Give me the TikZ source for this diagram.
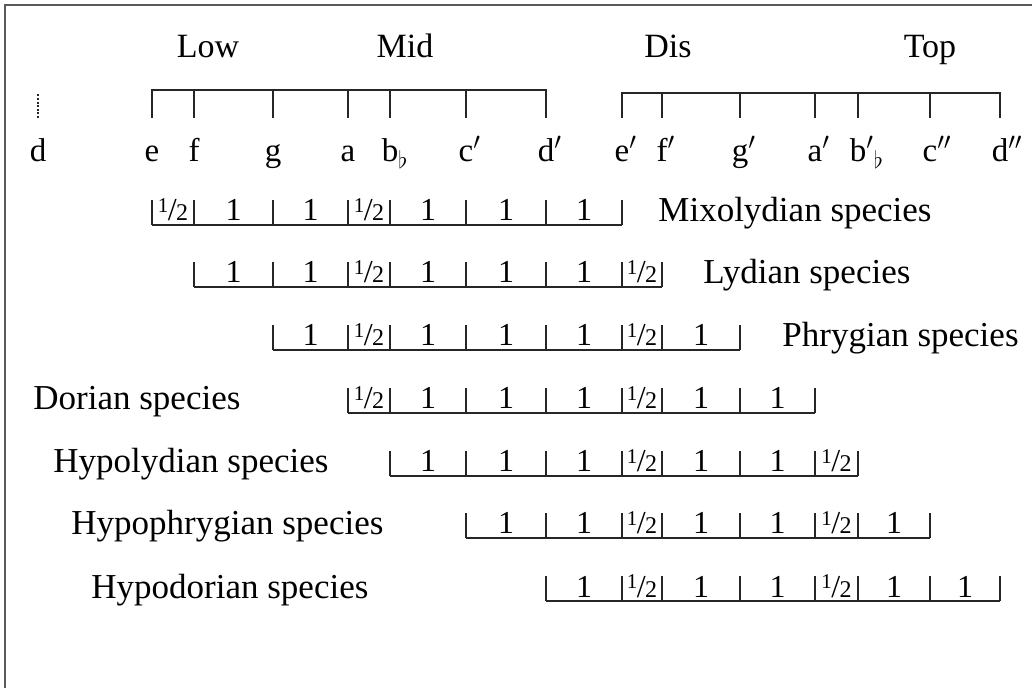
\documentclass[tikz,border=0pt]{standalone}
\usepackage{fontspec}
\setmainfont{Liberation Serif}
\usetikzlibrary{positioning}
\newcommand{\hf}{\raisebox{0.6ex}{\fontsize{10.5}{10.5}\selectfont 1}\kern-0.3pt/\kern-0.3pt{\fontsize{12}{12}\selectfont 2}}
\tikzset{
  region/.style={anchor=base, inner sep=0pt, font=\fontsize{17}{17}\selectfont},
  notename/.style={anchor=base, inner sep=0pt, font=\fontsize{16.5}{16.5}\selectfont},
  species/.style={anchor=base west, inner sep=0pt, font=\fontsize{17.5}{17.5}\selectfont},
  steplabel/.style={anchor=base, inner sep=0pt, font=\fontsize{16}{16}\selectfont},
  bar/.style={line width=0.8pt, black!85},
  edge/.style={line width=1.1pt, black!65}
}

\begin{document}
\begin{tikzpicture}[x=0.5pt, y=-0.5pt]
  \useasboundingbox (0,0) rectangle (1032,688);
  \draw[edge] (5,688) -- (5,5) -- (1032,5);
  % notes of the scale
  \foreach \x/\t [count=\i from 0] in {38/d, 152/e, 194/f, 273/g, 348/a,
      390/{b\rlap{$_\flat$}}, 466/{c\rlap{$'$}}, 546/{d\rlap{$'$}},
      622/{e\rlap{$'$}}, 662/{f\rlap{$'$}}, 740/{g\rlap{$'$}},
      815/{a\rlap{$'$}}, 858/{b\rlap{$'$$_\flat$}}, 930/{c\rlap{$''$}},
      1000/{d\rlap{$''$}}}
  {
    \coordinate (n\i) at (\x,118);
    \node[notename] (l\i) at (\x,162) {\t};
  }
  \node[region] (low) at (208,58) {Low};
  \node[region] (mid) at (405,58) {Mid};
  \node[region] (dis) at (668,58) {Dis};
  \node[region] (top) at (930,58) {Top};
  \draw[bar, dash pattern=on 1pt off 0.8pt] (n0) -- (n0 |- 0,93);
  \draw[bar] (n1) -- (n1 |- 0,90) -- (n7 |- 0,90) -- (n7);
  \foreach \i in {2,...,6} \draw[bar] (n\i) -- (n\i |- 0,90);
  \draw[bar] (n8) -- (n8 |- 0,93) -- (n14 |- 0,93) -- (n14);
  \foreach \i in {9,...,13} \draw[bar] (n\i) -- (n\i |- 0,93);
  % the seven species
  \foreach \s/\y/\nm/\lx in {1/225/Mixolydian/658, 2/287/Lydian/703,
      3/350/Phrygian/782, 4/413/Dorian/33, 5/476/Hypolydian/53,
      6/538/Hypophrygian/71, 7/601/Hypodorian/91}
  {
    \pgfmathtruncatemacro{\e}{\s+7}
    \pgfmathtruncatemacro{\el}{\s+6}
    \draw[bar] (n\s |- 0,\y) -- (n\e |- 0,\y);
    \foreach \i in {\s,...,\e} \draw[bar] (n\i |- 0,\y) -- ++(0,-25);
    \foreach \i in {\s,...,\el}
    {
      \pgfmathtruncatemacro{\j}{\i+1}
      \pgfmathtruncatemacro{\h}{(\i==1)||(\i==4)||(\i==8)||(\i==11)}
      \path (n\i |- 0,\y) -- node[steplabel, yshift=2pt] (st\s-\i)
        {\ifnum\h=1 \hf\else 1\fi} (n\j |- 0,\y);
    }
    \node[species] (sp\s) at (\lx,\y-3) {\nm\ species};
  }
\end{tikzpicture}
\end{document}
